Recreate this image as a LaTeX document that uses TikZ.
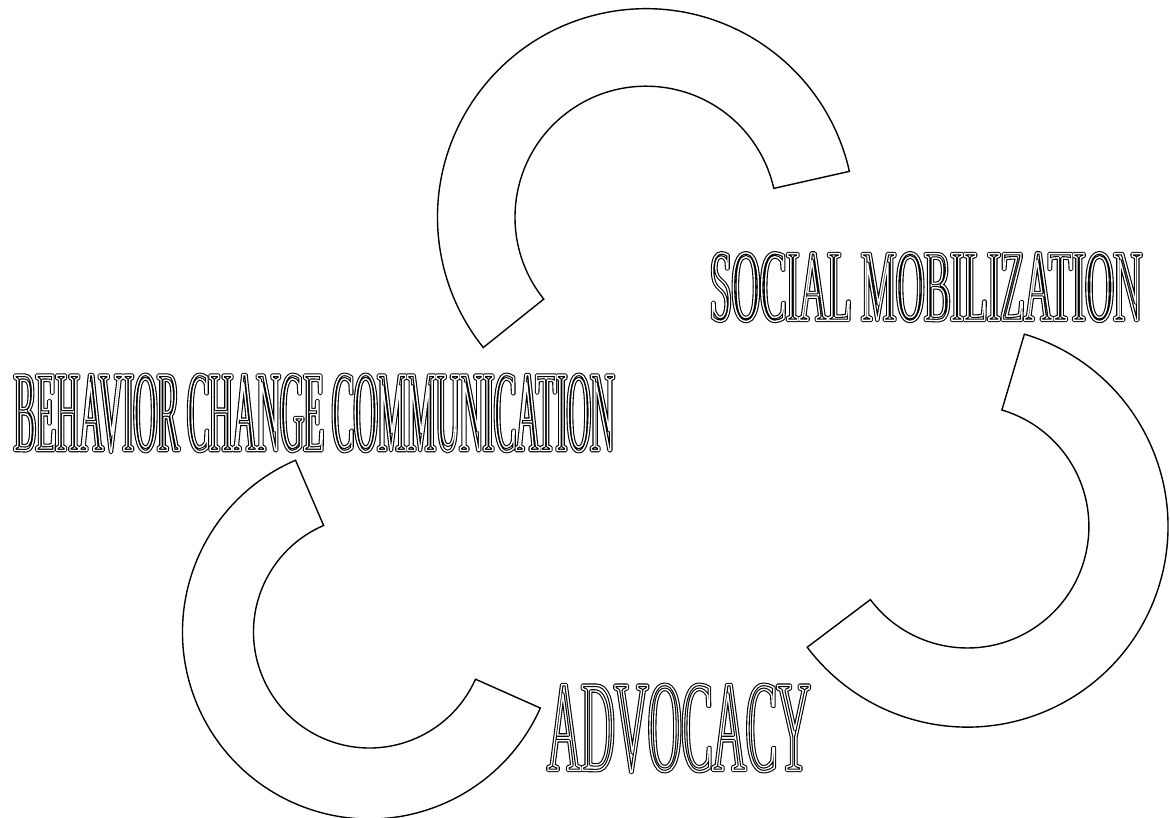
\documentclass[tikz,border=0pt]{standalone}
\usepackage{fontspec}
\usetikzlibrary{calc}
\newfontfamily\wafontA[FakeStretch=0.285]{Liberation Serif}
\newfontfamily\wafontB[FakeStretch=0.384]{Liberation Serif}
\newfontfamily\wafontC[FakeStretch=0.357]{Liberation Serif}
\newcommand\wordart[1]{\leavevmode\rlap{\special{pdf:literal direct 1 Tr 3.6 w 1 j 1 J}#1\special{pdf:literal direct 0 Tr 0 j 0 J}}{\color{white}\special{pdf:literal direct 1 Tr 1.4 w 1 j 1 J}#1\special{pdf:literal direct 0 Tr 0 j 0 J}}}
\begin{document}
\begin{tikzpicture}[x=1pt,y=1pt,
  band/.style={draw=black, fill=white, line width=1.4pt, line join=miter},
  label/.style={anchor=base west, inner sep=0pt, outer sep=0pt}]
\useasboundingbox (0,0) rectangle (1170,818);
\fill[white] (0,0) rectangle (1170,818);
% top arc
\coordinate (ct) at (646,600.8);
\draw[band] ($(ct)+(12.7:208.5)$) arc[start angle=12.7, end angle=218.7, radius=208.5]
  -- ($(ct)+(218.7:131)$) arc[start angle=218.7, end angle=12.7, radius=131] -- cycle;
% right arc
\coordinate (cr) at (967.4,291.5);
\draw[band] ($(cr)+(73.5:200.6)$) arc[start angle=73.5, end angle=-143, radius=200.6]
  -- ($(cr)+(-143:121.5)$) arc[start angle=-143, end angle=73.5, radius=121.5] -- cycle;
% bottom-left arc
\coordinate (cl) at (369.5,186);
\draw[band] ($(cl)+(113.3:187)$) arc[start angle=113.3, end angle=336, radius=187]
  -- ($(cl)+(336:116)$) arc[start angle=336, end angle=113.3, radius=116] -- cycle;
% labels
\node[label] (bcc) at (14,367.5) {\wafontA\fontsize{115pt}{120pt}\selectfont\wordart{BEHAVIOR CHANGE COMMUNICATION}};
\node[label] (sm) at (710,497.6) {\wafontB\fontsize{102pt}{110pt}\selectfont\wordart{SOCIAL MOBILIZATION}};
\node[label] (adv) at (547.5,47.6) {\wafontC\fontsize{130pt}{135pt}\selectfont\wordart{ADVOCACY}};
\end{tikzpicture}
\end{document}
